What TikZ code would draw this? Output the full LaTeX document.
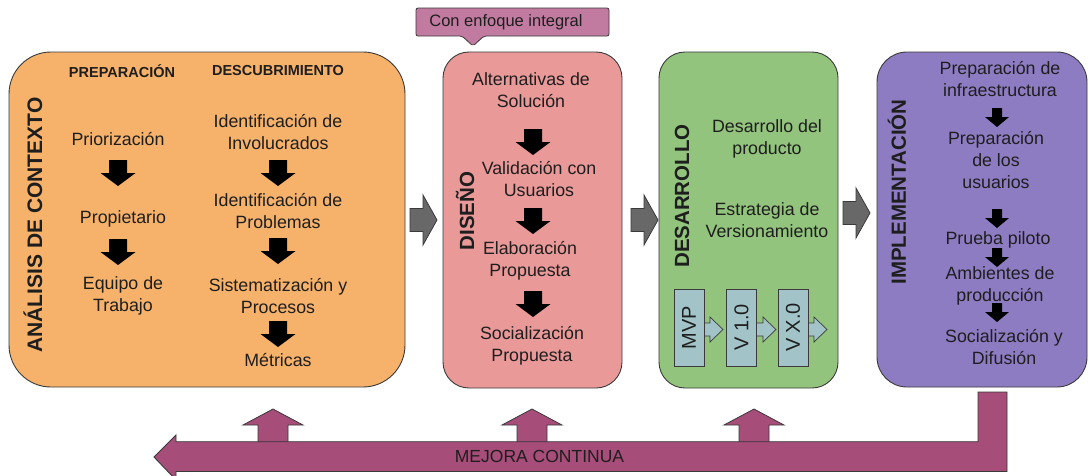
\documentclass[tikz,border=0pt]{standalone}
\usepackage{fontspec}
\setmainfont{Liberation Sans}
\definecolor{corange}{HTML}{F6B26B}
\definecolor{cpink}{HTML}{EA9999}
\definecolor{cgreen}{HTML}{93C47D}
\definecolor{cpurple}{HTML}{8E7CC3}
\definecolor{cmag}{HTML}{A64D79}
\definecolor{ccallout}{HTML}{C27BA0}
\definecolor{cver}{HTML}{A2C4C9}
\definecolor{cgray}{HTML}{686868}
\definecolor{cline}{HTML}{3A3A3A}
\definecolor{ctext}{HTML}{1E1E1E}
\newcommand{\bigdn}[2]{\fill[black] (#1-9,#2) -- (#1+9,#2) -- (#1+9,#2+13) -- (#1+17.5,#2+13) -- (#1,#2+26) -- (#1-17.5,#2+13) -- (#1-9,#2+13) -- cycle;}
\newcommand{\smalldn}[2]{\fill[black] (#1-5,#2) -- (#1+5,#2) -- (#1+5,#2+9) -- (#1+12,#2+9) -- (#1,#2+19) -- (#1-12,#2+9) -- (#1-5,#2+9) -- cycle;}
\newcommand{\grayright}[2]{\filldraw[fill=cgray,draw=cline,line width=0.8pt] (#1,#2-11.5) -- (#1+13,#2-11.5) -- (#1+13,#2-25) -- (#1+27,#2) -- (#1+13,#2+25) -- (#1+13,#2+11.5) -- (#1,#2+11.5) -- cycle;}
\newcommand{\magup}[1]{\filldraw[fill=cmag,draw=cline,line width=0.8pt] (#1-15,442) -- (#1-15,425) -- (#1-30,425) -- (#1,409) -- (#1+30,425) -- (#1+15,425) -- (#1+15,442) -- cycle;}
\newcommand{\verright}[1]{\filldraw[fill=cver,draw=cline,line width=0.7pt] (#1-4,323) -- (#1+6,323) -- (#1+6,317) -- (#1+19,329.5) -- (#1+6,342) -- (#1+6,336) -- (#1-4,336) -- cycle;}
\begin{document}
\begin{tikzpicture}[x=1pt,y=-1pt,
  stage/.style={draw=cline,line width=0.9pt,inner sep=0pt},
  txt/.style={font=\fontsize{17.8}{22}\selectfont,align=center,inner sep=0pt,text=ctext},
  hdr/.style={font=\bfseries\fontsize{14.5}{17}\selectfont,inner sep=0pt,text=ctext},
  ttl/.style={font=\bfseries\fontsize{20.5}{24}\selectfont,inner sep=0pt,rotate=90,text=ctext},
  verbox/.style={draw=cline,line width=0.7pt,fill=cver,minimum width=30pt,minimum height=77pt,inner sep=0pt},
  vertxt/.style={font=\fontsize{20}{24}\selectfont,rotate=90,inner sep=0pt,text=ctext}]
\useasboundingbox (0,0) rectangle (1089,475);
\clip (0,0) rectangle (1089,475);
% stages
\node[stage,fill=corange,minimum width=396pt,minimum height=335pt,rounded corners=42pt] (ctx) at (207,219.5) {};
\node[stage,fill=cpink,minimum width=179pt,minimum height=336pt,rounded corners=26pt] (dis) at (532.5,220) {};
\node[stage,fill=cgreen,minimum width=179pt,minimum height=336pt,rounded corners=26pt] (des) at (748.5,220) {};
\node[stage,fill=cpurple,minimum width=210pt,minimum height=335pt,rounded corners=30pt] (imp) at (982,219.5) {};
% callout
\filldraw[fill=ccallout,draw=cline,line width=0.8pt,rounded corners=2pt] (416,8) -- (609,8) -- (609,36) -- (484,36) -- (473,46) -- (462,36) -- (416,36) -- cycle;
\node[font=\fontsize{16.5}{20}\selectfont,inner sep=0pt,text=ctext] (cal) at (506,22) {Con enfoque integral};
% gray arrows between stages
\grayright{410}{220}
\grayright{631}{220}
\grayright{843}{213}
% context
\node[ttl,font=\bfseries\fontsize{21}{24}\selectfont] (tctx) at (33,225) {ANÁLISIS DE CONTEXTO};
\node[hdr] (hprep) at (122,71) {PREPARACIÓN};
\node[hdr] (hdesc) at (278,71) {DESCUBRIMIENTO};
\node[txt] (p1) at (118,139) {Priorización};
\node[txt] (p2) at (123,219) {Propietario};
\node[txt] (p3) at (123,296) {Equipo de\\Trabajo};
\node[txt] (d1) at (278,132.5) {Identificación de\\Involucrados};
\node[txt] (d2) at (278,211) {Identificación de\\Problemas};
\node[txt] (d3) at (278,296) {Sistematización y\\Procesos};
\node[txt] (d4) at (278,360) {Métricas};
\bigdn{118}{160}
\bigdn{118}{239}
\bigdn{278}{160}
\bigdn{278}{238}
\bigdn{278}{321}
% design
\node[ttl] (tdis) at (465,211) {DISEÑO};
\node[txt] (s1) at (531,90) {Alternativas de\\Solución};
\node[txt] (s2) at (539,179.5) {Validación con\\Usuarios};
\node[txt] (s3) at (530,260.5) {Elaboración\\Propuesta};
\node[txt] (s4) at (532,346) {Socialización\\Propuesta};
\bigdn{533}{129}
\bigdn{533}{208}
\bigdn{533}{291}
% development
\node[ttl] (tdes) at (682,196) {DESARROLLO};
\node[txt] (v1) at (767,139) {Desarrollo del\\producto};
\node[txt] (v2) at (767,220.5) {Estrategia de\\Versionamiento};
\verright{704}
\verright{757}
\verright{808}
\node[verbox] (mvp) at (689,327.5) {};
\node[verbox] (vone) at (741.5,327.5) {};
\node[verbox] (vx) at (793,327.5) {};
\node[vertxt] at (mvp) {MVP};
\node[vertxt] at (vone) {V 1.0};
\node[vertxt] at (vx) {V X.0};
% implementation
\node[ttl] (timp) at (897,192) {IMPLEMENTACIÓN};
\node[txt] (i1) at (1000,79) {Preparación de\\infraestructura};
\node[txt] (i2) at (996,160) {Preparación\\de los\\usuarios};
\node[txt] (i3) at (998,240) {Prueba piloto};
\node[txt] (i4) at (1000,286) {Ambientes de\\producción};
\node[txt] (i5) at (1004,347.5) {Socialización y\\Difusión};
\smalldn{997}{108}
\smalldn{997}{209}
\smalldn{997}{248}
\smalldn{997}{303}
% continuous improvement
\magup{273}
\magup{532}
\magup{754}
\filldraw[fill=cmag,draw=cline,line width=0.9pt] (1007,392) -- (1007,471.5) -- (176,471.5) -- (176,480) -- (154,457) -- (176,435) -- (176,441.7) -- (978,441.7) -- (978,392) -- cycle;
\node[font=\fontsize{17.5}{20}\selectfont,inner sep=0pt,text=ctext] (mc) at (539.5,456) {MEJORA CONTINUA};
\end{tikzpicture}
\end{document}
